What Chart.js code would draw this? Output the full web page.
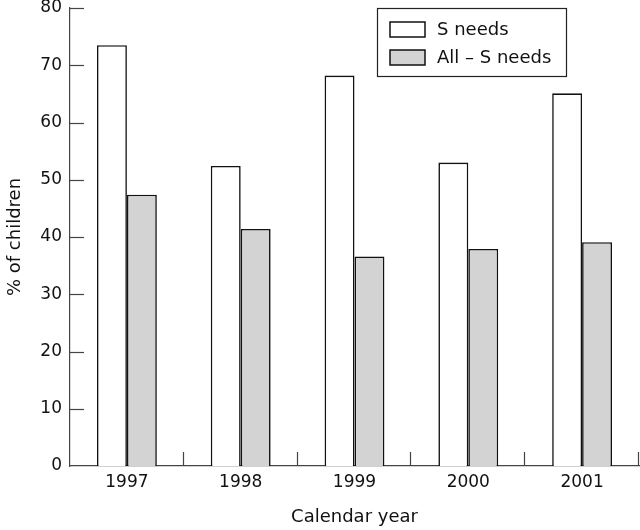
<!DOCTYPE html>
<html><head><meta charset="utf-8">
<script src="https://cdn.jsdelivr.net/npm/chart.js@4/dist/chart.umd.min.js"></script>
<style>html,body{margin:0;padding:0;background:#fff}#wrap{width:640px;height:530px}</style>
</head><body><div id="wrap"><canvas id="c"></canvas></div>
<script>
const years = ['1997','1998','1999','2000','2001'];
const sNeeds = [73.5, 52.4, 68.2, 53.0, 65.1];
const allMinusS = [47.4, 41.4, 36.6, 37.9, 39.1];
const seriesLabels = ['S needs', 'All \u2013 S needs'];
const yTicks = [0,10,20,30,40,50,60,70,80];
const FONT = '"DejaVu Sans"';

const decor = {
  id: 'decor',
  afterDraw(chart) {
    const ctx = chart.ctx, x = chart.scales.x, y = chart.scales.y;
    ctx.save();
    ctx.strokeStyle = '#444'; ctx.lineWidth = 1.2;
    yTicks.forEach(v => { if (v === 0) return;
      const py = Math.round(y.getPixelForValue(v)) + 0.5;
      ctx.beginPath(); ctx.moveTo(x.left, py); ctx.lineTo(x.left + 14, py); ctx.stroke(); });
    for (let i = 1; i <= years.length; i++) {
      const px = Math.round(x.getPixelForValue(i - 0.5)) - 0.5;
      ctx.beginPath(); ctx.moveTo(px, y.bottom); ctx.lineTo(px, y.bottom - 14); ctx.stroke();
    }
    const lx = 377, ly = 8, lw = 189, lh = 68;
    ctx.fillStyle = '#fff'; ctx.fillRect(lx, ly, lw, lh);
    ctx.strokeStyle = '#222'; ctx.lineWidth = 1.2;
    ctx.strokeRect(lx + 0.5, ly + 0.5, lw, lh);
    ctx.font = '18px ' + FONT; ctx.textBaseline = 'middle'; ctx.textAlign = 'left';
    chart.data.datasets.forEach((ds, i) => {
      const cy = ly + 21 + i * 28;
      ctx.fillStyle = ds.backgroundColor; ctx.fillRect(390, cy - 7, 35, 15);
      ctx.strokeStyle = '#111'; ctx.lineWidth = 1.5; ctx.strokeRect(390, cy - 7, 35, 15);
      ctx.fillStyle = '#111'; ctx.fillText(ds.label, 437, cy + 1);
    });
    ctx.restore();
  }
};

new Chart(document.getElementById('c'), {
  type: 'bar',
  data: { labels: years, datasets: [
    { label: seriesLabels[0], data: sNeeds, backgroundColor: '#ffffff', borderColor: '#111', borderWidth: 1.6, borderSkipped: 'bottom' },
    { label: seriesLabels[1], data: allMinusS, backgroundColor: '#d3d3d3', borderColor: '#111', borderWidth: 1.6, borderSkipped: 'bottom' }
  ]},
  options: {
    responsive: true, maintainAspectRatio: false, animation: false,
    layout: { padding: { top: 8, right: 1, left: 0, bottom: 0 } },
    datasets: { bar: { categoryPercentage: 0.526, barPercentage: 1 } },
    plugins: { legend: { display: false }, tooltip: { enabled: false } },
    scales: {
      x: {
        offset: true,
        grid: { display: false, drawTicks: false },
        border: { display: true, color: '#444', width: 1.2 },
        ticks: { color: '#111', font: { family: FONT, size: 17 }, padding: 6 },
        title: { display: true, text: 'Calendar year', color: '#111', font: { family: FONT, size: 18 }, padding: { top: 6, bottom: 2 } },
        afterFit(s) { s.height = 64; s.paddingLeft = 0; s.paddingRight = 0; }
      },
      y: {
        min: 0, max: 80,
        afterBuildTicks(s) { s.ticks = yTicks.map(v => ({ value: v })); },
        grid: { display: false, drawTicks: false },
        border: { display: true, color: '#444', width: 1.2 },
        ticks: { color: '#111', font: { family: FONT, size: 17 }, padding: 8 },
        title: { display: true, text: '% of children', color: '#111', font: { family: FONT, size: 18 }, padding: { top: 5, bottom: 4 } },
        afterFit(s) { s.width = 70; s.paddingTop = 0; s.paddingBottom = 0; }
      }
    }
  },
  plugins: [decor]
});
</script></body></html>
